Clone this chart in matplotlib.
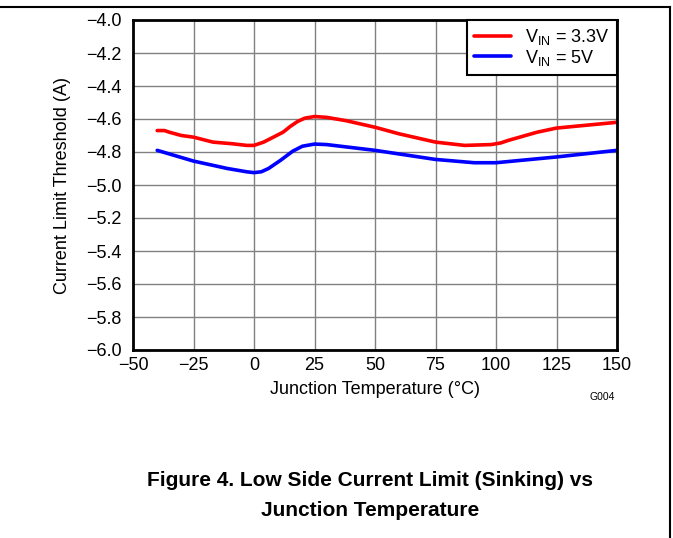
import matplotlib
matplotlib.use("Agg")
import matplotlib.pyplot as plt
from matplotlib.lines import Line2D

plt.rcParams['font.family'] = ['Liberation Sans', 'DejaVu Sans']

# data
temp_33 = [-40, -37, -35, -30, -25, -17, -9, -3, 0, 4, 8, 12, 15, 18, 21, 25, 30, 38, 50, 60, 75, 87, 98, 102,
           105, 117, 125, 150]
vin_33 = [-4.67, -4.67, -4.68, -4.70, -4.71, -4.74, -4.75, -4.76, -4.76, -4.74, -4.71, -4.68, -4.645, -4.615,
          -4.595, -4.585, -4.59, -4.61, -4.65, -4.69, -4.74, -4.76, -4.755, -4.745, -4.73, -4.68, -4.655, -4.62]
temp_5 = [-40, -25, -11, -3, 0, 3, 6, 11, 16, 20, 25, 30, 50, 75, 91, 100, 125, 150]
vin_5 = [-4.79, -4.855, -4.90, -4.92, -4.925, -4.92, -4.9, -4.85, -4.795, -4.765, -4.752, -4.755, -4.79,
         -4.845, -4.865, -4.865, -4.83, -4.79]

x_ticks = [-50, -25, 0, 25, 50, 75, 100, 125, 150]
y_ticks = [-4.0, -4.2, -4.4, -4.6, -4.8, -5.0, -5.2, -5.4, -5.6, -5.8, -6.0]

fig = plt.figure(figsize=(6.73, 5.38), dpi=100)
ax = fig.add_axes([133/673, 1 - 350/538, 484/673, 330/538])

ax.plot(temp_33, vin_33, color='#ff0000', lw=2.6, label='V$_{\\mathregular{IN}}$ = 3.3V', solid_capstyle='round')
ax.plot(temp_5, vin_5, color='#0000ff', lw=2.6, label='V$_{\\mathregular{IN}}$ = 5V', solid_capstyle='round')

ax.set_xlim(-50, 150)
ax.set_ylim(-6.0, -4.0)
ax.set_xticks(x_ticks)
ax.set_yticks(y_ticks)
ax.set_xticklabels([str(t).replace('-', '\u2212') for t in x_ticks])
ax.set_yticklabels([('%.1f' % t).replace('-', '\u2212') for t in y_ticks])
ax.tick_params(length=0, labelsize=13)
ax.tick_params(axis='y', pad=8)
ax.tick_params(axis='x', pad=5)
ax.grid(True, color='#808080', lw=1)
ax.set_axisbelow(True)
for s in ax.spines.values():
    s.set_linewidth(2)
    s.set_color('black')

ax.set_xlabel('Junction Temperature (\u00b0C)', fontsize=13, labelpad=5)
ax.set_ylabel('Current Limit Threshold (A)', fontsize=13, labelpad=11)

leg = ax.legend(loc='upper right', bbox_to_anchor=(1, 1), borderaxespad=0, fancybox=False,
                edgecolor='black', framealpha=1, fontsize=13, handlelength=2.0,
                labelspacing=0.02, borderpad=0.4, handletextpad=0.8)
leg.get_frame().set_linewidth(1.5)

fig.text(602/673, 1 - 397/538, 'G004', fontsize=7.5, ha='center', va='center')
fig.text(370/673, 1 - 480/538, 'Figure 4. Low Side Current Limit (Sinking) vs',
         fontsize=15, fontweight='bold', ha='center', va='center')
fig.text(370/673, 1 - 510/538, 'Junction Temperature',
         fontsize=15, fontweight='bold', ha='center', va='center')

# page border lines
fig.add_artist(Line2D([0, 670/673], [1 - 7/538, 1 - 7/538], color='black', lw=1.5))
fig.add_artist(Line2D([670/673, 670/673], [0, 1 - 7/538], color='black', lw=1.5))

fig.savefig('out.png', dpi=100)
